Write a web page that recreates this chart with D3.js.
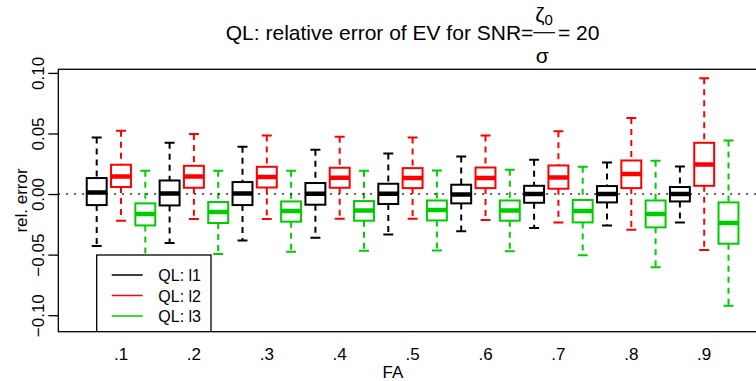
<!DOCTYPE html>
<html>
<head>
<meta charset="utf-8">
<script src="https://cdn.jsdelivr.net/npm/d3@7"></script>
<style>
  body { margin: 0; background: #fff; }
  svg { display: block; font-family: "Liberation Sans", Arial, Helvetica, sans-serif; }
</style>
</head>
<body>
<svg id="ev_plot" width="756" height="381"></svg>
<script>
// ====================== DATA ======================
let faLabels = [".1", ".2", ".3", ".4", ".5", ".6", ".7", ".8", ".9"];
let seriesNames = ["QL: l1", "QL: l2", "QL: l3"];
let seriesColors = ["#000000", "#ff0000", "#00cd00"];
let yTicks = [-0.1, -0.05, 0, 0.05, 0.1];

// per FA: [lower whisker, Q1, median, Q3, upper whisker]
let statsL1 = [
  [-0.0429, -0.0091, 0.0013, 0.0132, 0.0467],
  [-0.0404, -0.0094, 0.0005, 0.0112, 0.0423],
  [-0.0383, -0.0091, 0.0005, 0.0099, 0.0390],
  [-0.0360, -0.0088, 0.0002, 0.0091, 0.0365],
  [-0.0333, -0.0082, 0.0002, 0.0085, 0.0335],
  [-0.0308, -0.0077, -0.0003, 0.0077, 0.0310],
  [-0.0280, -0.0072, 0.0000, 0.0068, 0.0283],
  [-0.0259, -0.0069, 0.0000, 0.0066, 0.0260],
  [-0.0234, -0.0061, 0.0000, 0.0058, 0.0228]
];
let statsL2 = [
  [-0.0220, 0.0058, 0.0145, 0.0242, 0.0522],
  [-0.0206, 0.0052, 0.0145, 0.0233, 0.0495],
  [-0.0206, 0.0054, 0.0140, 0.0225, 0.0483],
  [-0.0204, 0.0052, 0.0134, 0.0217, 0.0472],
  [-0.0204, 0.0049, 0.0132, 0.0214, 0.0467],
  [-0.0214, 0.0049, 0.0132, 0.0219, 0.0483],
  [-0.0234, 0.0044, 0.0137, 0.0236, 0.0519],
  [-0.0294, 0.0049, 0.0165, 0.0277, 0.0627],
  [-0.0462, 0.0068, 0.0244, 0.0423, 0.0956]
];
let statsL3 = [
  [-0.0520, -0.0259, -0.0165, -0.0077, 0.0192],
  [-0.0495, -0.0239, -0.0148, -0.0066, 0.0192],
  [-0.0476, -0.0228, -0.0140, -0.0061, 0.0192],
  [-0.0467, -0.0220, -0.0135, -0.0058, 0.0192],
  [-0.0465, -0.0218, -0.0132, -0.0053, 0.0195],
  [-0.0473, -0.0220, -0.0135, -0.0053, 0.0200],
  [-0.0506, -0.0234, -0.0140, -0.0049, 0.0225],
  [-0.0605, -0.0275, -0.0165, -0.0053, 0.0275],
  [-0.0921, -0.0410, -0.0239, -0.0069, 0.0442]
];

// ====================== LAYOUT ======================
let plotTop = 69.3;
let plotBottom = 331.7;
let fontMain = 21;
let fontAxis = 17;

// box positions 1..27 (three boxes per FA value)
let xScale = d3.scaleLinear().domain([1, 27]).range([96.7, 728.5]);
let yScale = d3.scaleLinear().domain([-0.1, 0.1]).range([315.2, 72.9]);
let plotLeft = xScale(-0.58);
let plotRight = xScale(28.58);
let boxWidth = (xScale(2) - xScale(1)) * 0.82;
let capWidth = boxWidth / 2;

let svg = d3.select("#ev_plot");
svg.append("rect").attr("width", 756).attr("height", 381).attr("fill", "#fff");

svg.append("clipPath").attr("id", "plot_clip")
  .append("rect")
  .attr("x", plotLeft).attr("y", plotTop)
  .attr("width", plotRight - plotLeft).attr("height", plotBottom - plotTop);

let plotArea = svg.append("g").attr("clip-path", "url(#plot_clip)");

// flatten into one list of boxes
let allStats = [statsL1, statsL2, statsL3];
let boxes = [];
faLabels.forEach((fa, g) => {
  allStats.forEach((stats, s) => {
    let d = stats[g];
    boxes.push({ pos: g * 3 + s + 1, color: seriesColors[s], lo: d[0], q1: d[1], med: d[2], q3: d[3], hi: d[4] });
  });
});

// ====================== BOXES ======================
let boxG = plotArea.selectAll("g.box")
  .data(boxes)
  .enter()
  .append("g")
  .attr("class", "box");

// whiskers (dashed)
boxG.append("line")
  .attr("x1", d => xScale(d.pos)).attr("x2", d => xScale(d.pos))
  .attr("y1", d => yScale(d.hi)).attr("y2", d => yScale(d.q3))
  .attr("stroke", d => d.color).attr("stroke-width", 2).attr("stroke-dasharray", "6,5");
boxG.append("line")
  .attr("x1", d => xScale(d.pos)).attr("x2", d => xScale(d.pos))
  .attr("y1", d => yScale(d.q1)).attr("y2", d => yScale(d.lo))
  .attr("stroke", d => d.color).attr("stroke-width", 2).attr("stroke-dasharray", "6,5");

// staples
boxG.append("line")
  .attr("x1", d => xScale(d.pos) - capWidth / 2).attr("x2", d => xScale(d.pos) + capWidth / 2)
  .attr("y1", d => yScale(d.hi)).attr("y2", d => yScale(d.hi))
  .attr("stroke", d => d.color).attr("stroke-width", 2);
boxG.append("line")
  .attr("x1", d => xScale(d.pos) - capWidth / 2).attr("x2", d => xScale(d.pos) + capWidth / 2)
  .attr("y1", d => yScale(d.lo)).attr("y2", d => yScale(d.lo))
  .attr("stroke", d => d.color).attr("stroke-width", 2);

// box
boxG.append("rect")
  .attr("x", d => xScale(d.pos) - boxWidth / 2)
  .attr("y", d => yScale(d.q3))
  .attr("width", boxWidth)
  .attr("height", d => yScale(d.q1) - yScale(d.q3))
  .attr("fill", "none")
  .attr("stroke", d => d.color).attr("stroke-width", 2);

// median
boxG.append("line")
  .attr("x1", d => xScale(d.pos) - boxWidth / 2).attr("x2", d => xScale(d.pos) + boxWidth / 2)
  .attr("y1", d => yScale(d.med)).attr("y2", d => yScale(d.med))
  .attr("stroke", d => d.color).attr("stroke-width", 4.5);

// dotted zero line
plotArea.append("line")
  .attr("x1", plotLeft).attr("x2", plotRight)
  .attr("y1", yScale(0)).attr("y2", yScale(0))
  .attr("stroke", "#000").attr("stroke-width", 1.6).attr("stroke-dasharray", "1.6,6.4");

// ====================== LEGEND ======================
let legendX = 96.7, legendY = 255, legendW = 114.3;
let legend = plotArea.append("g");
legend.append("rect")
  .attr("x", legendX).attr("y", legendY)
  .attr("width", legendW).attr("height", 90)
  .attr("fill", "#fff").attr("stroke", "#000").attr("stroke-width", 1.3);

seriesNames.forEach((name, i) => {
  let ly = 275 + i * 20.5;
  legend.append("line")
    .attr("x1", 111.7).attr("x2", 142.7)
    .attr("y1", ly).attr("y2", ly)
    .attr("stroke", seriesColors[i]).attr("stroke-width", 1.5);
  legend.append("text")
    .attr("x", 158.3).attr("y", ly + 6)
    .style("font-size", "16px")
    .text(name);
});

// ====================== FRAME + AXES ======================
svg.append("rect")
  .attr("x", plotLeft).attr("y", plotTop)
  .attr("width", plotRight - plotLeft).attr("height", plotBottom - plotTop)
  .attr("fill", "none").attr("stroke", "#000").attr("stroke-width", 1.3);

let yAxis = svg.append("g")
  .attr("transform", `translate(${plotLeft},0)`)
  .call(d3.axisLeft(yScale).tickValues(yTicks).tickSize(10).tickSizeOuter(0).tickFormat(d3.format(".2f")));
yAxis.select(".domain").remove();
yAxis.selectAll("line").attr("stroke-width", 1.3);
yAxis.selectAll("text")
  .attr("x", 0).attr("y", -14.5).attr("dy", null)
  .attr("text-anchor", "middle")
  .attr("transform", "rotate(-90)")
  .style("font-size", fontAxis + "px")
  .style("font-family", "Liberation Sans, Arial, sans-serif")
  .attr("fill", "#000");

// FA labels (centre of each triplet, no ticks)
svg.append("g")
  .selectAll("text")
  .data(faLabels)
  .enter()
  .append("text")
  .attr("x", (d, i) => xScale(i * 3 + 2))
  .attr("y", 359.5)
  .attr("text-anchor", "middle")
  .style("font-size", fontAxis + "px")
  .text(d => d);

svg.append("text")
  .attr("x", 393).attr("y", 377.5)
  .attr("text-anchor", "middle")
  .style("font-size", fontAxis + "px")
  .text("FA");

svg.append("text")
  .attr("transform", `translate(26.7,${(plotTop + plotBottom) / 2}) rotate(-90)`)
  .attr("text-anchor", "middle")
  .style("font-size", fontAxis + "px")
  .text("rel. error");

// ====================== TITLE (with fraction) ======================
let titleG = svg.append("g");
let titleMain = titleG.append("text").attr("y", 40).style("font-size", fontMain + "px")
  .text("QL: relative error of EV for SNR=");
let zeta = titleG.append("text").attr("y", 21.5).style("font-size", fontMain + "px");
zeta.append("tspan").text("ζ");
zeta.append("tspan").attr("dy", 3.5).style("font-size", "15px").text("0");
let sigma = titleG.append("text").attr("y", 63).style("font-size", fontMain + "px").text("σ");
let titleEnd = titleG.append("text").attr("y", 40).style("font-size", fontMain + "px").text("= 20");

let mainW = titleMain.node().getComputedTextLength();
let zetaW = zeta.node().getComputedTextLength();
let sigmaW = sigma.node().getComputedTextLength();
let endW = titleEnd.node().getComputedTextLength();
let fracW = Math.max(zetaW, sigmaW) + 4;
let totalW = mainW + fracW + 3 + endW;
let x0 = (plotLeft + plotRight) / 2 - totalW / 2;
let fracX = x0 + mainW;

titleMain.attr("x", x0);
zeta.attr("x", fracX + fracW / 2).attr("text-anchor", "middle");
sigma.attr("x", fracX + fracW / 2 - 2).attr("text-anchor", "middle");
titleEnd.attr("x", fracX + fracW + 3);
titleG.append("line")
  .attr("x1", fracX).attr("x2", fracX + fracW)
  .attr("y1", 32.7).attr("y2", 32.7)
  .attr("stroke", "#000").attr("stroke-width", 1.2);
</script>
</body>
</html>
